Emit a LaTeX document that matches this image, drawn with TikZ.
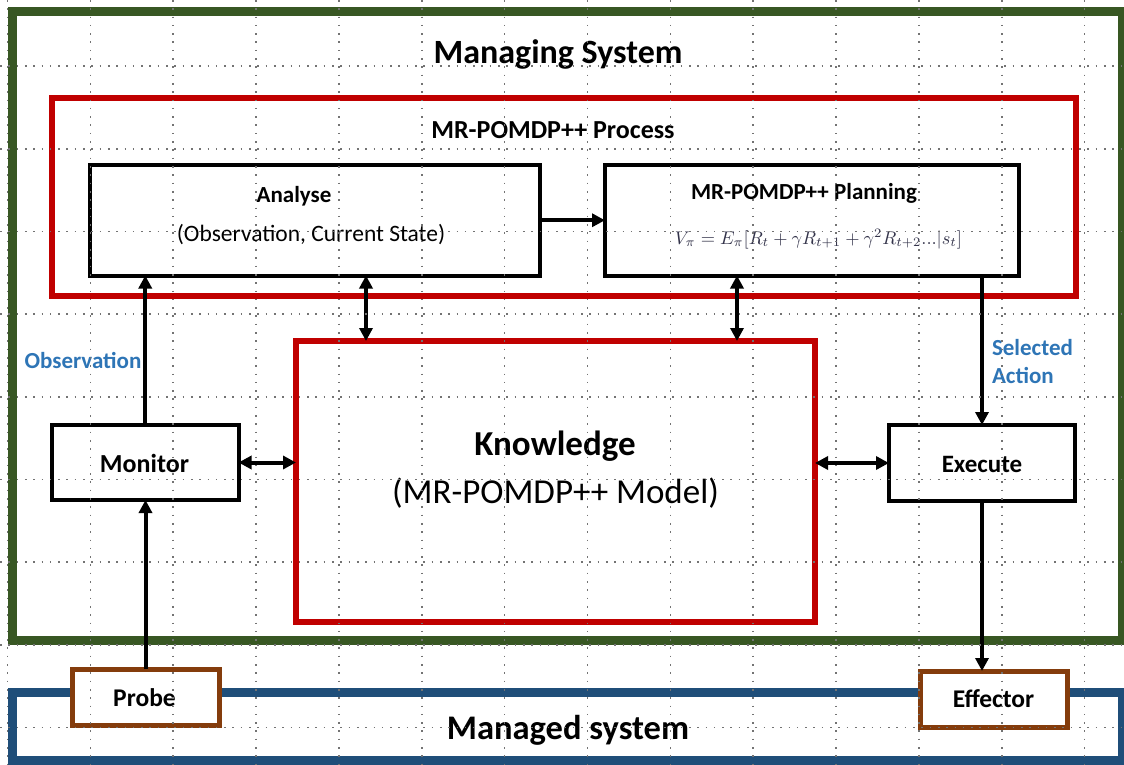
\documentclass[tikz,border=0pt]{standalone}
\usepackage{fontspec}
\setmainfont{Carlito}
\usepackage{amsmath}
\usepackage{graphicx}
\usetikzlibrary{arrows.meta}

\definecolor{managingcol}{HTML}{385723}
\definecolor{managedcol}{HTML}{1F4E79}
\definecolor{processcol}{HTML}{C00000}
\definecolor{sensorcol}{HTML}{843C0C}
\definecolor{labelcol}{HTML}{2E75B6}
\definecolor{formulacol}{HTML}{33334A}

\begin{document}
\begin{tikzpicture}[x=1pt,y=-1pt]
            \tikzstyle{every node}+=[inner sep=0pt, outer sep=0pt]
            \tikzstyle{frame}=[draw, rectangle, anchor=north west]
            \tikzstyle{block}=[frame, black, line width=4pt]
            \tikzstyle{redblock}=[frame, processcol, line width=6.5pt]
            \tikzstyle{sensor}=[frame, sensorcol, fill=white, line width=5pt]
            \tikzstyle{link}=[black, line width=4pt, -{Triangle[length=13pt,width=13pt]}]
            \tikzstyle{dlink}=[black, line width=4pt, {Triangle[length=13pt,width=13pt]}-{Triangle[length=13pt,width=13pt]}]
            \tikzstyle{gridline}=[black!55, line width=1.6pt, dash pattern=on 1.6pt off 6.7pt]
            \useasboundingbox (0,0) rectangle (1124,765);
            % frames
            \node [frame, managingcol, line width=9pt, minimum width=1109.5pt, minimum height=628.5pt] (managing) at (12.5,11.5) {};
            \node [frame, managedcol, line width=9pt, minimum width=1110pt, minimum height=68pt] (managed) at (12,692) {};
            \node [sensor, minimum width=147pt, minimum height=56pt] (probe) at (72,669) {};
            \node [sensor, minimum width=147pt, minimum height=56pt] (effector) at (920,671) {};
            \node [redblock, minimum width=1024pt, minimum height=198pt] (process) at (52,98) {};
            \node [redblock, minimum width=519pt, minimum height=281pt] (knowledge) at (296,341) {};
            \node [block, minimum width=450pt, minimum height=110.5pt] (analyse) at (90,165) {};
            \node [block, minimum width=414pt, minimum height=110.5pt] (planning) at (605,165) {};
            \node [block, minimum width=186.5pt, minimum height=75pt] (monitor) at (52,425) {};
            \node [block, minimum width=186pt, minimum height=76pt] (execute) at (889,425) {};
            % connectors
            \draw [link] (monitor.north) -- (monitor.north |- analyse.south);
            \draw [link] (probe.north) -- (probe.north |- monitor.south);
            \draw [dlink] (monitor.east) -- (monitor.east -| knowledge.west);
            \draw [link] (analyse.east) -- (analyse.east -| planning.west);
            \draw [dlink] ([xshift=70pt]knowledge.north west) -- ([xshift=70pt]knowledge.north west |- analyse.south);
            \draw [dlink] ([xshift=441pt]knowledge.north west) -- ([xshift=441pt]knowledge.north west |- planning.south);
            \draw [link] (execute.north |- planning.south) -- (execute.north);
            \draw [dlink] (knowledge.east |- execute.west) -- (execute.west);
            \draw [link] (execute.south) -- (execute.south |- effector.north);
            % texts
            \node [anchor=base, font=\fontsize{34}{40}\selectfont\bfseries] (managingtext) at (558,64) {Managing System};
            \node [anchor=base, font=\fontsize{26}{31}\selectfont\bfseries] (processtext) at (553,139) {MR-POMDP++ Process};
            \node [anchor=base, font=\fontsize{23}{28}\selectfont\bfseries] (analysetext) at (294,202) {Analyse};
            \node [anchor=base, font=\fontsize{23.5}{28}\selectfont] (analysesub) at (311,241) {(Observation, Current State)};
            \node [anchor=base, font=\fontsize{23}{28}\selectfont\bfseries] (planningtext) at (804,199) {MR-POMDP++ Planning};
            \node [formulacol] (planningsub) at (818.5,239) {\resizebox{287pt}{!}{$V_\pi = E_\pi[R_t + \gamma R_{t+1} + \gamma^2 R_{t+2} ... |s_t]$}};
            \node [anchor=base, font=\fontsize{35}{42}\selectfont\bfseries] (knowledgetext) at (555,455) {Knowledge};
            \node [anchor=base, font=\fontsize{35}{42}\selectfont] (knowledgesub) at (555.5,503) {(MR-POMDP++ Model)};
            \node [anchor=base, font=\fontsize{26}{31}\selectfont\bfseries] (monitortext) at (144.5,472) {Monitor};
            \node [anchor=base, font=\fontsize{25}{30}\selectfont\bfseries] (executetext) at (982,472) {Execute};
            \node [anchor=base, labelcol, font=\fontsize{23}{28}\selectfont\bfseries] (observation) at (83,368) {Observation};
            \node [anchor=base west, labelcol, font=\fontsize{23}{28}\selectfont\bfseries, align=left] (selected) at (992,383) {Selected\\Action};
            \node [anchor=base, font=\fontsize{25.5}{30}\selectfont\bfseries] (probetext) at (144.5,706) {Probe};
            \node [anchor=base, font=\fontsize{25.5}{30}\selectfont\bfseries] (effectortext) at (993.5,707) {Effector};
            \node [anchor=base, font=\fontsize{34.5}{41}\selectfont\bfseries] (managedtext) at (568,739) {Managed system};
            % grid
            \foreach \i in {0,...,13}
                \draw [gridline] ({7.5+82.85*\i},0) -- ({7.5+82.85*\i},765);
            \foreach \j in {0,...,8}
                \draw [gridline] (0,{66+82.7*\j}) -- (1124,{66+82.7*\j});
\end{tikzpicture}
\end{document}
